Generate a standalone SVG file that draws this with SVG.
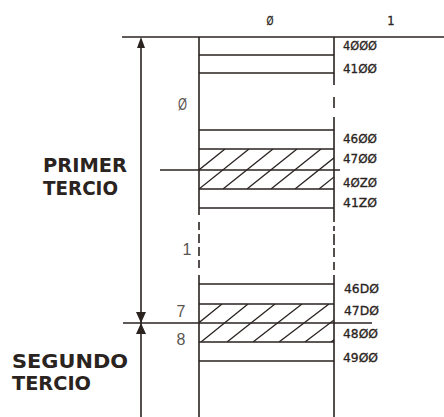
<svg xmlns="http://www.w3.org/2000/svg" width="444" height="417" viewBox="0 0 444 417">
<defs>
<style>
.ln{stroke:#2a2320;stroke-width:1.6;fill:none}
.hl{stroke:#2a2320;stroke-width:1.3;fill:none}
.addr{font-family:"DejaVu Sans",sans-serif;font-size:11.5px;fill:#2a2320;stroke:#2a2320;stroke-width:0.3}
.num{font-family:"Liberation Sans",sans-serif;font-size:16px;fill:#5a5450}
.big{font-family:"DejaVu Sans",sans-serif;font-size:19px;font-weight:bold;fill:#2a2320}
</style>
<clipPath id="c1"><rect x="199" y="149" width="135" height="40"/></clipPath>
<clipPath id="c2"><rect x="199" y="304" width="135" height="38"/></clipPath>
</defs>
<rect width="444" height="417" fill="#fff"/>
<g id="connectors">
<line class="ln" x1="122" y1="37" x2="444" y2="37"/>
<line class="ln" x1="141" y1="40" x2="141" y2="417"/>
<polygon points="141,37 137,48 145,48" fill="#2a2320"/>
<polygon points="141,323 136,312 146,312" fill="#2a2320"/>
<polygon points="141,323 136,334 146,334" fill="#2a2320"/>
<line class="ln" x1="160" y1="170" x2="340" y2="170"/>
<line class="ln" x1="123" y1="323" x2="372" y2="323"/>
</g>
<g id="memory">
<path class="ln" d="M199 37V215M199 222V230M199 234V243M199 247V256M199 260V268M199 275V417"/>
<path class="ln" d="M334 37V85M334 97V108M334 117V222M334 226V231M334 234V245M334 248V257M334 262V270M334 275V417"/>
<path class="ln" d="M199 55H334M199 73H334M199 130H334M199 149H334M199 189H334M199 208H334M199 284H334M199 304H334M199 342H334M199 361H334"/>
<g clip-path="url(#c1)">
<path class="hl" d="M175 189L225 149M199 189L249 149M223 189L273 149M247 189L297 149M271 189L321 149M295 189L345 149M319 189L369 149"/>
</g>
<g clip-path="url(#c2)">
<path class="hl" d="M175 342L222 304M201 342L248 304M227 342L275 304M253 342L302 304M279 342L329 304M305 342L355 304M331 342L381 304"/>
</g>
</g>
<g id="headers">
<text class="addr" x="270" y="25" text-anchor="middle" textLength="7" lengthAdjust="spacingAndGlyphs">Ø</text>
<text class="addr" x="391" y="25" text-anchor="middle">1</text>
</g>
<g id="addresses">
<text class="addr" x="343" y="50" textLength="34" lengthAdjust="spacingAndGlyphs">4ØØØ</text>
<text class="addr" x="343" y="73" textLength="34" lengthAdjust="spacingAndGlyphs">41ØØ</text>
<text class="addr" x="343" y="143" textLength="34" lengthAdjust="spacingAndGlyphs">46ØØ</text>
<text class="addr" x="343" y="163" textLength="34" lengthAdjust="spacingAndGlyphs">47ØØ</text>
<text class="addr" x="343" y="187" textLength="34" lengthAdjust="spacingAndGlyphs">4ØZØ</text>
<text class="addr" x="343" y="207" textLength="34" lengthAdjust="spacingAndGlyphs">41ZØ</text>
<text class="addr" x="344" y="293" textLength="35" lengthAdjust="spacingAndGlyphs">46DØ</text>
<text class="addr" x="344" y="315" textLength="35" lengthAdjust="spacingAndGlyphs">47DØ</text>
<text class="addr" x="343" y="338" textLength="35" lengthAdjust="spacingAndGlyphs">48ØØ</text>
<text class="addr" x="343" y="362" textLength="35" lengthAdjust="spacingAndGlyphs">49ØØ</text>
</g>
<g id="page-labels">
<text class="num" x="178" y="110" font-size="15" textLength="9" lengthAdjust="spacingAndGlyphs">Ø</text>
<text class="num" x="187" y="255" text-anchor="middle" font-size="14">1</text>
<text class="num" x="181" y="317" text-anchor="middle">7</text>
<text class="num" x="181" y="345" text-anchor="middle">8</text>
</g>
<g id="primer-tercio">
<text class="big" x="43" y="172" textLength="84" lengthAdjust="spacingAndGlyphs">PRIMER</text>
<text class="big" x="43" y="195" textLength="75" lengthAdjust="spacingAndGlyphs">TERCIO</text>
</g>
<g id="segundo-tercio">
<text class="big" x="12" y="368" textLength="116" lengthAdjust="spacingAndGlyphs">SEGUNDO</text>
<text class="big" x="12" y="390" textLength="79" lengthAdjust="spacingAndGlyphs">TERCIO</text>
</g>
</svg>
